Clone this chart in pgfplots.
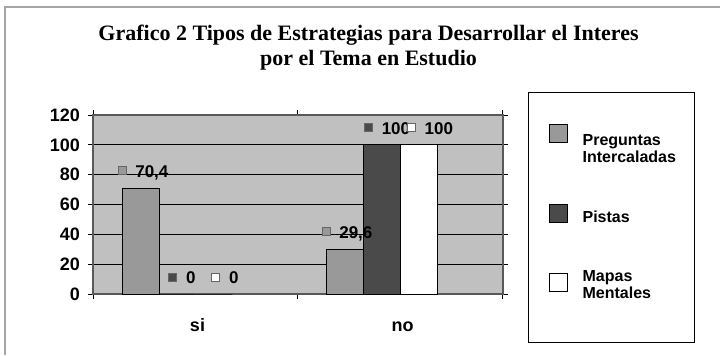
\documentclass[border=0pt]{standalone}
\usepackage{pgfplots}
\pgfplotsset{compat=1.18}
\usepackage{fontspec}
\setmainfont{Liberation Serif}
\newfontfamily\lab{Liberation Sans}
\definecolor{plotbg}{HTML}{C0C0C0}
\definecolor{gA}{HTML}{999999}
\definecolor{gB}{HTML}{4A4A4A}
\definecolor{gC}{HTML}{FFFFFF}
\newcommand{\sq}[1]{\raisebox{1.2pt}{\tikz\draw[fill=#1,draw=black!60,line width=0.4pt] (0,0) rectangle (4pt,4pt);}}
\begin{document}
\begin{tikzpicture}
\path[use as bounding box] (0,0) rectangle (360pt,177.5pt);
\draw[gray!70, line width=1.2pt] (2.5pt,0pt) |- (360pt,174pt);
\begin{axis}[
  at={(46.5pt,30.5pt)}, anchor=south west,
  scale only axis, width=205pt, height=89.5pt,
  xmin=0, xmax=2, ymin=0, ymax=120,
  ytick={0,20,...,120},
  xtick={0.5,1.5}, xticklabels={si,no},
  minor xtick={0,1,2},
  major x tick style={draw=none},
  minor x tick style={black, line width=0.5pt},
  y tick style={black, line width=0.5pt},
  tick align=outside,
  major tick length=2.5pt, minor tick length=2.5pt,
  ymajorgrids, grid style={black, line width=0.6pt},
  axis background/.style={fill=plotbg},
  axis line style={draw=gray!70!black, line width=0.6pt},
  tick label style={font=\lab\bfseries\fontsize{9}{10}\selectfont},
  xticklabel style={yshift=-6pt, xshift=1pt, text height=6.5pt, text depth=0pt},
  yticklabel style={xshift=-0.5pt},
  title={Grafico 2 Tipos de Estrategias para Desarrollar el Interes\\por el Tema en Estudio},
  title style={at={(0.672,1.475)}, anchor=north, align=center,
    font=\bfseries\fontsize{11}{12.5}\selectfont},
  clip=false,
  every node near coord/.append style={anchor=center, yshift=8pt,
    font=\lab\bfseries\fontsize{8.5}{9}\selectfont, inner sep=0pt},
  /pgf/number format/.cd, use comma, fixed, precision=1, assume math mode=true,
  /pgfplots/.cd,
  legend style={at={(1.061,1.128)}, anchor=north west, draw=black, line width=0.6pt,
    inner xsep=10pt, inner ysep=0pt, row sep=0pt,
    font=\lab\bfseries\fontsize{8}{8.5}\selectfont,
    nodes={inner sep=0pt}},
  legend cell align=left,
]
\addplot[ybar, bar shift=0pt, bar width=0.18, fill=gA, draw=black, line width=0.5pt,
  every node near coord/.append style={xshift=1pt},
  nodes near coords={\sq{gA}\hspace{4.5pt}\pgfmathprintnumber{\pgfplotspointmeta}},
  legend image code/.code={\path[draw=none,fill=none] (0pt,-19pt) rectangle (9pt,27.4pt);
    \draw[fill=gA,draw=black,line width=0.5pt] (0pt,2.4pt) rectangle (9pt,11.4pt);}]
  coordinates {(0.234,70.4) (1.229,29.6)};
\addlegendentry{\hspace{7.5pt}\smash{\parbox[t]{46pt}{Preguntas\\Intercaladas}}}
\addplot[ybar, bar shift=0pt, bar width=0.18, fill=gB, draw=black, line width=0.5pt,
  every node near coord/.append style={xshift=2.5pt},
  nodes near coords={\sq{gB}\hspace{4.5pt}\pgfmathprintnumber{\pgfplotspointmeta}},
  legend image code/.code={\path[draw=none,fill=none] (0pt,-14.5pt) rectangle (9pt,19.5pt);
    \draw[fill=gB,draw=black,line width=0.5pt] (0pt,0.9pt) rectangle (9pt,9.9pt);}]
  coordinates {(0.41,0) (1.41,100)};
\addlegendentry{\hspace{7.5pt}\smash{\parbox[t]{46pt}{Pistas}}}
\addplot[ybar, bar shift=0pt, bar width=0.18, fill=gC, draw=black, line width=0.5pt,
  every node near coord/.append style={xshift=5.5pt},
  nodes near coords={\sq{gC}\hspace{4.5pt}\pgfmathprintnumber{\pgfplotspointmeta}},
  legend image code/.code={\path[draw=none,fill=none] (0pt,-29.6pt) rectangle (9pt,15pt);
    \draw[fill=gC,draw=black,line width=0.5pt] (0pt,-4.1pt) rectangle (9pt,4.9pt);}]
  coordinates {(0.59,0) (1.59,100)};
\addlegendentry{\hspace{7.5pt}\smash{\parbox[t]{46pt}{Mapas\\Mentales}}}
\end{axis}
\end{tikzpicture}
\end{document}
